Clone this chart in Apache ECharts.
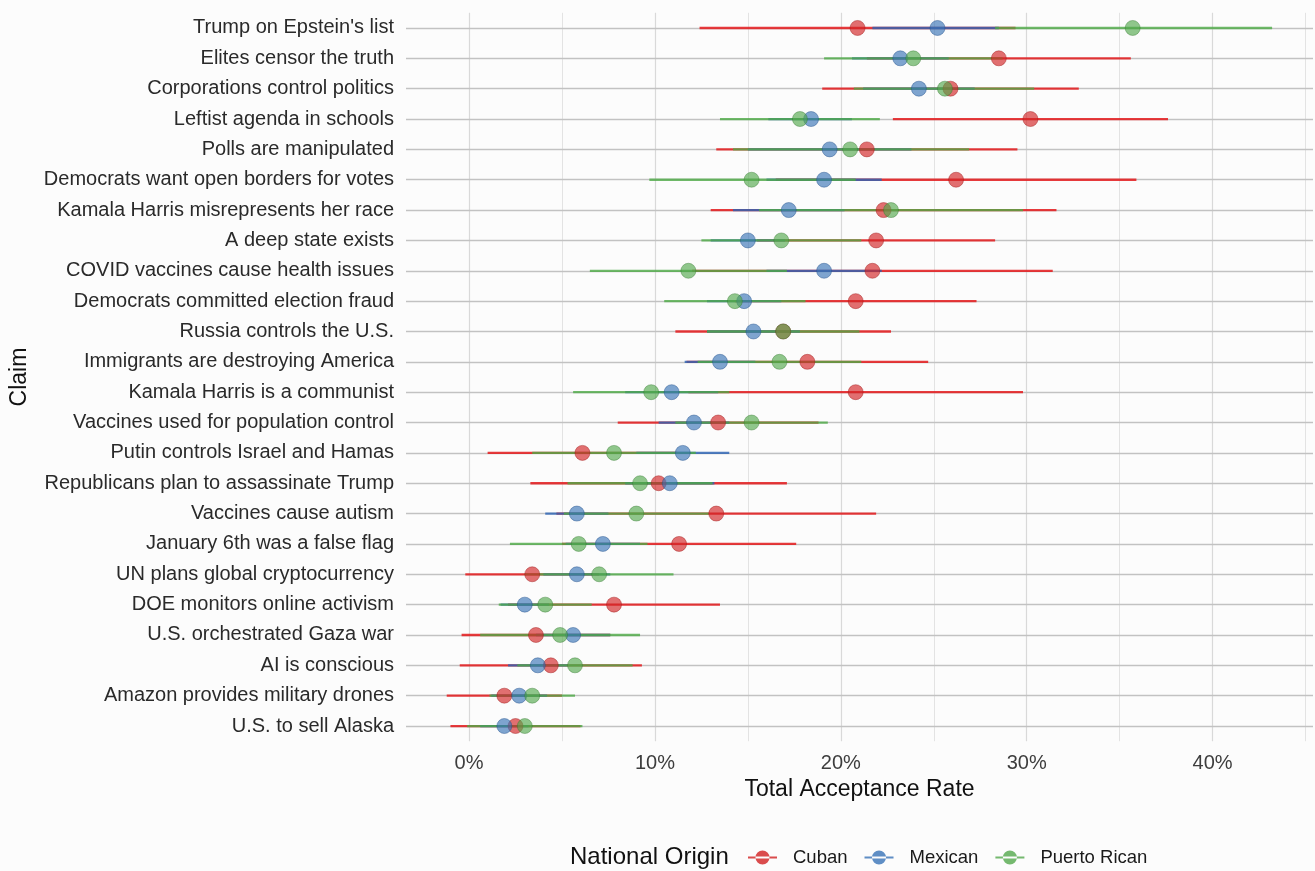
<!DOCTYPE html>
<html>
<head>
<meta charset="utf-8">
<script src="https://cdn.jsdelivr.net/npm/echarts@6/dist/echarts.min.js"></script>
<style>
  html, body { margin: 0; padding: 0; background: #fcfcfc; }
  #chart { width: 1315px; height: 871px; }
</style>
</head>
<body>
<div id="chart"></div>
<script>
const claims = [
  "Trump on Epstein's list",
  "Elites censor the truth",
  "Corporations control politics",
  "Leftist agenda in schools",
  "Polls are manipulated",
  "Democrats want open borders for votes",
  "Kamala Harris misrepresents her race",
  "A deep state exists",
  "COVID vaccines cause health issues",
  "Democrats committed election fraud",
  "Russia controls the U.S.",
  "Immigrants are destroying America",
  "Kamala Harris is a communist",
  "Vaccines used for population control",
  "Putin controls Israel and Hamas",
  "Republicans plan to assassinate Trump",
  "Vaccines cause autism",
  "January 6th was a false flag",
  "UN plans global cryptocurrency",
  "DOE monitors online activism",
  "U.S. orchestrated Gaza war",
  "AI is conscious",
  "Amazon provides military drones",
  "U.S. to sell Alaska"
];

const cuban   = [20.9, 28.5, 25.9, 30.2, 21.4, 26.2, 22.3, 21.9, 21.7, 20.8, 16.9, 18.2, 20.8, 13.4, 6.1, 10.2, 13.3, 11.3, 3.4, 7.8, 3.6, 4.4, 1.9, 2.5];
const cubanLo = [12.4, 21.4, 19.0, 22.8, 13.3, 16.5, 13.0, 15.5, 12.0, 14.3, 11.1, 11.7, 11.8, 8.0, 1.0, 3.3, 4.7, 5.0, -0.2, 2.1, -0.4, -0.5, -1.2, -1.0];
const cubanHi = [29.4, 35.6, 32.8, 37.6, 29.5, 35.9, 31.6, 28.3, 31.4, 27.3, 22.7, 24.7, 29.8, 18.8, 11.2, 17.1, 21.9, 17.6, 7.0, 13.5, 7.6, 9.3, 5.0, 6.0];

const mexican   = [25.2, 23.2, 24.2, 18.4, 19.4, 19.1, 17.2, 15.0, 19.1, 14.8, 15.3, 13.5, 10.9, 12.1, 11.5, 10.8, 5.8, 7.2, 5.8, 3.0, 5.6, 3.7, 2.7, 1.9];
const mexicanLo = [21.7, 20.6, 21.2, 16.1, 15.0, 16.0, 14.2, 13.0, 16.0, 12.8, 12.8, 11.6, 8.4, 10.2, 9.0, 8.4, 4.1, 5.2, 4.0, 1.7, 3.6, 2.1, 1.2, 0.6];
const mexicanHi = [28.5, 25.8, 27.2, 20.6, 23.8, 22.2, 20.2, 17.0, 22.2, 16.8, 17.8, 15.4, 13.4, 14.0, 14.0, 13.2, 7.5, 9.2, 7.6, 4.3, 7.6, 5.3, 4.2, 3.2];

const puertoRican   = [35.7, 23.9, 25.6, 17.8, 20.5, 15.2, 22.7, 16.8, 11.8, 14.3, 16.9, 16.7, 9.8, 15.2, 7.8, 9.2, 9.0, 5.9, 7.0, 4.1, 4.9, 5.7, 3.4, 3.0];
const puertoRicanLo = [28.3, 19.1, 20.7, 13.5, 14.2, 9.7, 15.6, 12.5, 6.5, 10.5, 12.8, 12.3, 5.6, 11.1, 3.4, 5.3, 5.1, 2.2, 3.0, 1.6, 0.6, 2.6, 1.1, -0.1];
const puertoRicanHi = [43.2, 28.7, 30.4, 22.1, 26.9, 20.8, 29.8, 21.1, 17.1, 18.1, 21.0, 21.1, 14.0, 19.3, 12.2, 13.1, 12.9, 9.6, 11.0, 6.6, 9.2, 8.8, 5.7, 6.1];

const xTickLabels = [0, 10, 20, 30, 40];
const xMinorTicks = [5, 15, 25, 35, 45];

const FONT = '"Liberation Sans", Arial, Helvetica, sans-serif';

const groups = [
  { name: 'Cuban', pts: cuban, lo: cubanLo, hi: cubanHi,
    line: 'rgba(228,26,28,0.85)', fill: 'rgba(210,36,38,0.82)', border: 'rgba(160,25,25,0.55)' },
  { name: 'Mexican', pts: mexican, lo: mexicanLo, hi: mexicanHi,
    line: 'rgba(45,100,180,0.82)', fill: 'rgba(55,114,182,0.8)', border: 'rgba(35,80,140,0.55)' },
  { name: 'Puerto Rican', pts: puertoRican, lo: puertoRicanLo, hi: puertoRicanHi,
    line: 'rgba(77,170,70,0.8)', fill: 'rgba(82,168,75,0.8)', border: 'rgba(50,120,45,0.5)' }
];

const legendIcon = 'path://M0,6.5L29,6.5L29,8.5L0,8.5Z M21.5,7.5A7,7,0,1,0,7.5,7.5A7,7,0,1,0,21.5,7.5Z';

const gridLines = [];
xTickLabels.forEach(v => gridLines.push({ xAxis: v, lineStyle: { color: '#d9d9d9', width: 1.2, type: 'solid' } }));
xMinorTicks.forEach(v => gridLines.push({ xAxis: v, lineStyle: { color: '#e3e3e3', width: 1, type: 'solid' } }));
claims.forEach((c, i) => gridLines.push({ yAxis: i, lineStyle: { color: '#c2c2c2', width: 1.3, type: 'solid' } }));

const series = [];
series.push({
  type: 'scatter', name: '_grid', data: [], z: 1, silent: true,
  markLine: { z: 1, silent: true, symbol: ['none', 'none'], label: { show: false }, animation: false, data: gridLines }
});
groups.forEach(g => {
  series.push({
    type: 'custom', name: g.name, z: 2,
    data: claims.map((c, i) => [g.lo[i], g.hi[i], i]),
    encode: { x: [0, 1], y: 2 },
    itemStyle: { color: g.fill },
    renderItem: function (params, api) {
      const p1 = api.coord([api.value(0), api.value(2)]);
      const p2 = api.coord([api.value(1), api.value(2)]);
      return { type: 'line', z2: 10, shape: { x1: p1[0], y1: p1[1], x2: p2[0], y2: p2[1] },
               style: { stroke: g.line, lineWidth: 2.3 } };
    }
  });
});
groups.forEach(g => {
  series.push({
    type: 'scatter', name: g.name, z: 3,
    symbol: 'circle', symbolSize: 15,
    data: claims.map((c, i) => [g.pts[i], i]),
    itemStyle: { color: g.fill, borderColor: g.border, borderWidth: 1 }
  });
});

const chart = echarts.init(document.getElementById('chart'));
chart.setOption({
  animation: false,
  backgroundColor: '#fcfcfc',
  textStyle: { fontFamily: FONT },
  title: {
    text: 'National Origin', left: 565, top: 840,
    textStyle: { fontFamily: FONT, fontSize: 24, fontWeight: 'normal', color: '#111' }
  },
  legend: {
    left: 743, top: 843, itemWidth: 29, itemHeight: 15, itemGap: 17,
    textStyle: { fontFamily: FONT, fontSize: 18.5, color: '#1a1a1a', padding: [0, 0, 0, 11] },
    data: groups.map(g => ({ name: g.name, icon: legendIcon, itemStyle: { color: g.fill } }))
  },
  grid: { left: 406, top: 12.8, width: 907, height: 728.4, containLabel: false },
  xAxis: {
    type: 'value', min: -3.39, max: 45.4,
    name: 'Total Acceptance Rate', nameLocation: 'middle', nameGap: 32,
    nameTextStyle: { fontFamily: FONT, fontSize: 23, color: '#111' },
    axisLine: { show: false }, axisTick: { show: false }, splitLine: { show: false },
    axisLabel: { customValues: xTickLabels, formatter: v => v + '%', fontSize: 20, color: '#3d3d3d', margin: 12, fontFamily: FONT }
  },
  yAxis: {
    type: 'category', inverse: true, data: claims, boundaryGap: true,
    name: 'Claim', nameLocation: 'middle', nameGap: 375,
    nameTextStyle: { fontFamily: FONT, fontSize: 23, color: '#111' },
    axisLine: { show: false }, axisTick: { show: false }, splitLine: { show: false },
    axisLabel: { fontSize: 20, color: '#2a2a2a', margin: 12, fontFamily: FONT, interval: 0 }
  },
  series: series
});
</script>
</body>
</html>
